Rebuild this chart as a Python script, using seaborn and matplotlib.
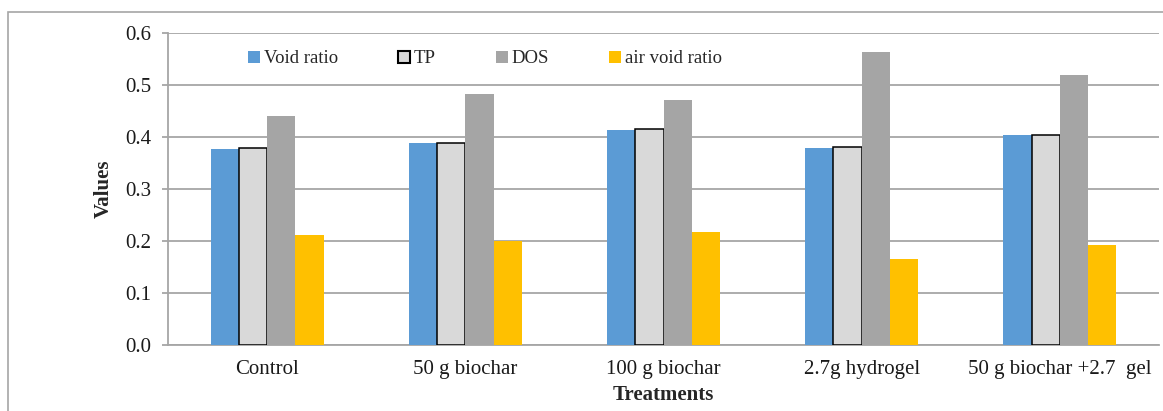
import matplotlib
matplotlib.use("Agg")
import matplotlib.pyplot as plt
from matplotlib.patches import Patch, Rectangle
import numpy as np
import pandas as pd
import seaborn as sns

# Data
treatments = ["Control", "50 g biochar", "100 g biochar", "2.7g hydrogel", "50 g biochar +2.7  gel"]
properties = ["Void ratio", "TP", "DOS", "air void ratio"]
void_ratio = [0.377, 0.388, 0.414, 0.379, 0.403]
tp = [0.378, 0.389, 0.415, 0.381, 0.404]
dos = [0.441, 0.483, 0.472, 0.563, 0.520]
air_void_ratio = [0.211, 0.200, 0.218, 0.165, 0.193]
y_ticks = [0.0, 0.1, 0.2, 0.3, 0.4, 0.5, 0.6]

colors = ["#5B9BD5", "#D9D9D9", "#A5A5A5", "#FFC000"]
grid_gray = "#A6A6A6"

# Long format table for seaborn
df = pd.DataFrame({
    "Treatment": treatments * 4,
    "Property": np.repeat(properties, len(treatments)),
    "Value": void_ratio + tp + dos + air_void_ratio,
})

sns.set_theme(style="white")
plt.rcParams["font.family"] = ["Liberation Serif", "DejaVu Serif"]

fig = plt.figure(figsize=(11.63, 4.11), dpi=100)
ax = fig.add_axes([168 / 1163, 1 - 345 / 411, (1159 - 168) / 1163, (345 - 33) / 411])

sns.barplot(data=df, x="Treatment", y="Value", hue="Property", hue_order=properties,
            order=treatments, palette=colors, saturation=1, width=0.57, gap=0,
            errorbar=None, legend=False, ax=ax, zorder=3)

# TP bars have a black outline
for i, cont in enumerate(ax.containers):
    for bar in cont:
        if properties[i] == "TP":
            bar.set_edgecolor("black")
            bar.set_linewidth(1.1)
        else:
            bar.set_linewidth(0)

ax.set_ylim(0, 0.6)
ax.set_yticks(y_ticks)
ax.set_yticklabels([f"{v:.1f}" for v in y_ticks])
ax.set_xlim(-0.5, len(treatments) - 0.5)
ax.yaxis.grid(True, color=grid_gray, linewidth=1.3, zorder=0)
ax.set_axisbelow(True)

for side in ["top", "right"]:
    ax.spines[side].set_visible(False)
for side in ["left", "bottom"]:
    ax.spines[side].set_color(grid_gray)
    ax.spines[side].set_linewidth(1.3)

ax.tick_params(axis="y", length=4.3, width=1.3, color=grid_gray, labelsize=15, pad=8, left=True)
ax.tick_params(axis="x", length=0, labelsize=15, pad=11)
for lbl in ax.get_xticklabels() + ax.get_yticklabels():
    lbl.set_color("#1a1a1a")

ax.set_ylabel("Values", fontsize=15, fontweight="bold", labelpad=8)
ax.set_xlabel("Treatments", fontsize=15, fontweight="bold", labelpad=4)

handles = [Patch(facecolor=colors[0], edgecolor="none"),
           Patch(facecolor=colors[1], edgecolor="black", linewidth=1.5),
           Patch(facecolor=colors[2], edgecolor="none"),
           Patch(facecolor=colors[3], edgecolor="none")]
ax.legend(handles, properties, loc="center", bbox_to_anchor=(0.32, 0.917), ncol=4,
          frameon=False, fontsize=13.5, handlelength=0.65, handleheight=0.65,
          handletextpad=0.2, columnspacing=3.2)

# outer chart border
fig.patches.append(Rectangle((8 / 1163, -0.1), 1.2, 1.1 - 12 / 411, transform=fig.transFigure,
                             fill=False, edgecolor=grid_gray, linewidth=1.2))

fig.savefig("out.png", dpi=100)
